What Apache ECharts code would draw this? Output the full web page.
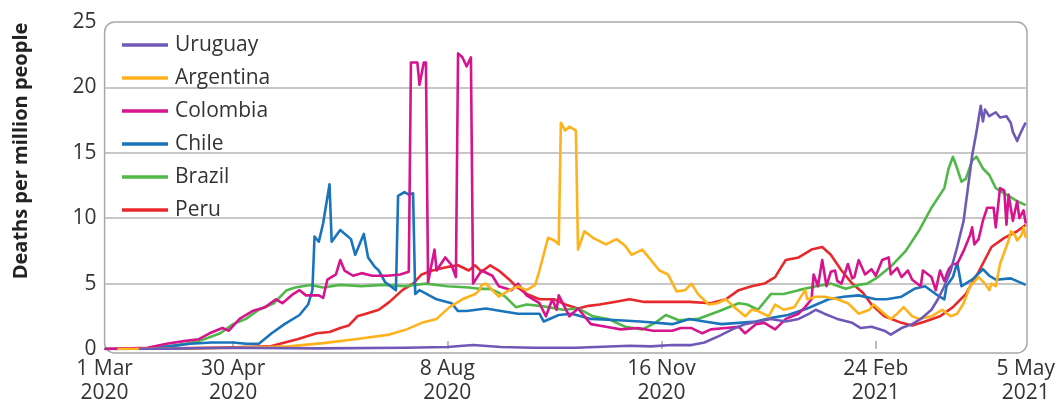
<!DOCTYPE html>
<html>
<head>
<meta charset="utf-8">
<script src="https://cdn.jsdelivr.net/npm/echarts@6/dist/echarts.min.js"></script>
<style>
html,body{margin:0;padding:0;background:#fff;}
#chart{width:1058px;height:405px;}
</style>
</head>
<body>
<div id="chart"></div>
<script>
// x = days since 1 Mar 2020, y = deaths per million people
const tickDays = [0, 60, 160, 260, 360, 430];
const tickLabels = ["1 Mar\n2020", "30 Apr\n2020", "8 Aug\n2020", "16 Nov\n2020", "24 Feb\n2021", "5 May\n2021"];
const yTicks = [0, 5, 10, 15, 20, 25];

const countries = ["Uruguay", "Argentina", "Colombia", "Chile", "Brazil", "Peru"];

const uruguay = [[16,0],[40,0.05],[60,0.1],[100,0.05],[140,0.1],[160,0.15],[172,0.3],[185,0.15],[200,0.1],[220,0.1],[245,0.25],[255,0.2],[265,0.3],[274,0.3],[280,0.5],[287,1.0],[293,1.5],[299,1.9],[305,2.1],[311,2.3],[318,2.1],[324,2.3],[329,2.7],[332,3.0],[336,2.7],[342,2.3],[349,2.0],[353,1.6],[358,1.7],[364,1.4],[367,1.1],[372,1.6],[377,1.9],[381,2.3],[386,3.0],[389,3.8],[392,4.8],[395,6.0],[398,7.8],[401,9.8],[403,12.3],[405,14.8],[407,16.6],[408,17.6],[409,18.6],[410,17.4],[411,18.3],[413,17.8],[416,18.1],[418,17.7],[421,17.8],[423,17.3],[424,16.6],[426,15.9],[427,16.3],[429,17.0],[430,17.3]];

const argentina = [[6,0],[20,0.02],[40,0.05],[60,0.1],[75,0.15],[86,0.2],[102,0.45],[117,0.75],[133,1.1],[141,1.5],[148,2.0],[155,2.3],[161,3.2],[167,3.8],[173,4.2],[175,4.5],[176,4.9],[178,5.0],[184,4.0],[189,4.5],[193,4.8],[197,4.5],[201,4.9],[203,6.0],[207,8.5],[210,8.3],[212,8.0],[213,17.3],[215,16.7],[217,17.0],[220,16.7],[221,7.6],[224,9.0],[228,8.5],[234,8.0],[239,8.4],[243,7.9],[246,7.2],[251,7.6],[254,7.0],[259,6.0],[263,5.7],[267,4.4],[271,4.5],[274,5.0],[277,4.2],[282,3.4],[286,3.5],[290,3.8],[294,3.2],[299,2.5],[302,3.0],[305,2.9],[310,2.5],[313,3.4],[317,3.0],[322,3.2],[327,4.5],[328,3.8],[332,4.0],[336,4.0],[342,3.8],[347,3.5],[352,2.7],[357,3.0],[359,3.4],[364,2.7],[367,2.3],[370,2.7],[373,3.2],[377,2.5],[380,2.3],[386,2.5],[391,3.0],[395,2.5],[398,2.7],[401,3.5],[404,4.8],[408,5.5],[411,5.0],[413,4.5],[414,5.0],[416,4.8],[418,6.5],[422,8.3],[423,9.0],[425,8.7],[426,8.3],[428,8.7],[429,9.3],[430,8.5]];

const colombia = [[0,0],[20,0.1],[29,0.4],[37,0.6],[44,0.75],[49,1.2],[55,1.6],[58,1.4],[63,2.3],[69,2.9],[75,3.2],[80,3.8],[83,3.5],[88,4.2],[91,4.5],[94,4.1],[100,4.1],[102,3.9],[104,5.3],[108,5.7],[110,6.8],[112,6.0],[116,5.6],[120,5.8],[125,5.6],[132,5.6],[138,5.7],[142,5.9],[143,21.9],[146,21.9],[147,20.2],[149,21.9],[150,21.9],[151,5.1],[154,7.6],[155,6.0],[159,7.0],[162,6.4],[164,5.5],[165,22.6],[167,22.3],[169,21.6],[171,22.3],[172,5.0],[176,6.0],[181,5.6],[184,4.8],[190,4.5],[193,5.0],[197,4.1],[203,3.5],[206,2.5],[209,3.8],[211,3.0],[212,4.1],[217,2.5],[221,3.1],[227,1.9],[234,1.7],[241,1.5],[249,1.6],[256,1.4],[265,1.4],[269,1.6],[274,1.6],[279,1.2],[283,1.5],[290,1.6],[296,1.7],[299,1.2],[304,1.9],[308,2.0],[313,1.5],[318,2.3],[324,2.7],[327,3.2],[330,3.8],[331,5.7],[333,4.8],[335,6.8],[337,4.8],[339,5.9],[341,6.0],[342,5.2],[344,5.0],[347,6.5],[349,5.4],[350,5.5],[352,6.8],[355,5.7],[358,6.1],[360,5.6],[363,6.8],[366,7.0],[367,5.7],[370,6.2],[372,5.5],[375,6.0],[377,5.3],[381,4.8],[382,6.0],[386,5.5],[388,4.5],[390,6.0],[392,5.2],[394,6.1],[396,6.5],[398,6.5],[401,7.5],[404,8.7],[405,9.3],[406,8.0],[408,8.4],[410,9.8],[412,10.8],[415,10.8],[416,9.3],[418,12.3],[420,12.1],[421,9.5],[422,11.8],[424,9.8],[426,11.3],[427,10.0],[429,10.6],[430,9.6]];

const chile = [[0,0],[10,0],[20,0.05],[30,0.2],[40,0.4],[50,0.5],[60,0.5],[66,0.4],[72,0.4],[78,1.2],[84,1.9],[91,2.6],[95,3.4],[97,4.5],[98,8.6],[100,8.2],[102,9.6],[105,12.6],[106,8.2],[110,9.1],[115,8.4],[117,7.2],[121,8.8],[123,7.0],[126,6.3],[128,6.0],[131,5.1],[136,4.5],[137,11.7],[140,12.0],[142,11.8],[144,11.9],[145,4.2],[147,4.5],[155,3.8],[162,3.5],[165,2.9],[169,2.9],[178,3.1],[185,2.9],[193,2.7],[203,2.7],[205,2.1],[212,2.6],[218,2.7],[227,2.3],[240,2.2],[250,2.1],[265,1.9],[273,2.3],[280,2.1],[288,1.9],[296,2.0],[304,2.1],[312,2.4],[319,2.6],[328,3.1],[338,3.8],[345,4.0],[352,4.1],[360,3.8],[365,3.8],[372,4.0],[378,4.6],[383,4.8],[388,4.2],[392,3.8],[393,4.8],[396,5.5],[398,6.6],[400,4.8],[405,5.3],[410,6.1],[413,5.6],[416,5.3],[423,5.4],[430,4.9]];

const brazil = [[0,0],[20,0.05],[30,0.2],[38,0.4],[44,0.6],[49,0.9],[54,1.2],[60,1.9],[66,2.3],[72,3.0],[79,3.5],[85,4.5],[89,4.7],[96,4.9],[102,4.7],[110,4.9],[120,4.8],[130,4.9],[140,4.8],[150,5.0],[160,4.8],[170,4.7],[175,4.6],[180,4.6],[184,4.3],[187,4.0],[192,3.2],[197,3.4],[203,3.3],[207,3.2],[214,3.0],[221,3.1],[228,2.5],[235,2.3],[243,1.7],[251,1.5],[257,2.0],[262,2.6],[268,2.2],[277,2.3],[287,2.9],[296,3.5],[300,3.4],[305,3.0],[311,4.2],[317,4.2],[324,4.5],[332,4.8],[339,5.0],[346,4.6],[352,4.9],[356,5.0],[361,5.5],[367,6.3],[374,7.5],[380,9.0],[386,10.8],[392,12.3],[394,13.8],[396,14.7],[398,13.8],[400,12.8],[402,13.0],[405,14.4],[407,14.7],[410,13.8],[413,13.3],[416,12.3],[421,11.8],[426,11.3],[430,11.0]];

const peru = [[0,0],[30,0.05],[50,0.1],[65,0.15],[77,0.2],[90,0.75],[99,1.2],[105,1.3],[110,1.6],[114,1.8],[118,2.5],[122,2.7],[128,3.0],[133,3.6],[139,4.5],[144,5.0],[148,5.7],[153,6.0],[161,6.3],[165,6.4],[170,6.0],[173,6.4],[176,5.9],[180,6.4],[184,6.0],[189,5.3],[192,4.8],[197,4.2],[203,3.8],[210,3.8],[215,3.4],[221,3.1],[226,3.3],[231,3.4],[238,3.6],[245,3.8],[252,3.6],[258,3.6],[266,3.6],[273,3.6],[283,3.5],[290,3.8],[296,4.5],[302,4.8],[308,5.0],[313,5.5],[316,6.3],[318,6.8],[324,7.0],[330,7.6],[335,7.8],[339,7.2],[344,6.0],[349,5.0],[354,4.3],[358,3.4],[364,2.5],[372,2.0],[377,1.8],[383,2.1],[390,2.5],[396,3.2],[402,4.2],[408,5.9],[414,7.8],[420,8.5],[426,9.0],[430,9.5]];

const seriesData = { Uruguay: uruguay, Argentina: argentina, Colombia: colombia, Chile: chile, Brazil: brazil, Peru: peru };
const colors = { Uruguay: "#6f58b6", Argentina: "#ffb21c", Colombia: "#d5148e", Chile: "#1a74bb", Brazil: "#50b848", Peru: "#e8282b" };

const W = 1058, H = 405;
const G = { left: 104.6, top: 22, right: 31, bottom: 52 };
const FONT = "'Open Sans', sans-serif";
const TXT = "#333333";

const chart = echarts.init(document.getElementById('chart'), null, { renderer: 'canvas', width: W, height: H });

// drawing order: Peru at the bottom ... Uruguay on top
const drawOrder = countries.slice().reverse();

chart.setOption({
  animation: false,
  textStyle: { fontFamily: FONT },
  grid: { left: G.left, top: G.top, right: G.right, bottom: G.bottom, containLabel: false },
  legend: {
    data: countries,
    orient: 'vertical',
    left: 117,
    top: 28,
    icon: 'rect',
    itemWidth: 46,
    itemHeight: 3.5,
    itemGap: 9,
    textStyle: { fontSize: 21, color: TXT, fontFamily: FONT, lineHeight: 24, padding: [0, 0, 0, 2] },
    selectedMode: false
  },
  xAxis: {
    type: 'value',
    min: 0,
    max: 430,
    axisLine: { show: false },
    splitLine: { show: false },
    axisTick: { show: true, inside: true, length: 8, customValues: tickDays.slice(1, -1), lineStyle: { color: '#a8a8a8', width: 1.5 } },
    axisLabel: {
      customValues: tickDays,
      formatter: function (v) { const i = tickDays.indexOf(Math.round(v)); return i >= 0 ? tickLabels[i] : ''; },
      fontSize: 21, lineHeight: 24, color: TXT, margin: 8, fontFamily: FONT
    }
  },
  yAxis: {
    type: 'value',
    min: yTicks[0],
    max: yTicks[yTicks.length - 1],
    interval: 5,
    axisLine: { show: false },
    axisTick: { show: false },
    axisLabel: { fontSize: 21, color: TXT, margin: 8, fontFamily: FONT },
    splitLine: { show: true, showMinLine: false, showMaxLine: false, lineStyle: { color: '#b4b4b4', width: 1.5 } }
  },
  graphic: [
    {
      type: 'rect', z: -1, silent: true,
      shape: { x: G.left, y: G.top, width: W - G.left - G.right, height: H - G.top - G.bottom, r: 10 },
      style: { fill: 'none', stroke: '#a8a8a8', lineWidth: 1.5 }
    },
    {
      type: 'text', silent: true,
      x: 21, y: 151, rotation: Math.PI / 2,
      style: { text: 'Deaths per million people', fontSize: 20, fontWeight: 'bold', fill: '#222', fontFamily: FONT, align: 'center', verticalAlign: 'middle' }
    }
  ],
  series: drawOrder.map(name => ({
    name: name,
    type: 'line',
    data: seriesData[name],
    showSymbol: false,
    symbol: 'none',
    color: colors[name],
    lineStyle: { width: 2.6, color: colors[name], join: 'round' },
    emphasis: { disabled: true }
  }))
});
</script>
</body>
</html>
